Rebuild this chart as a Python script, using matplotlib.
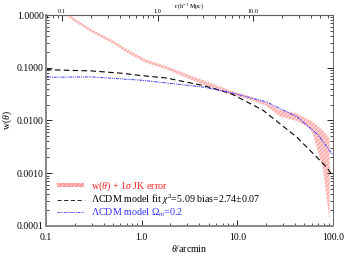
import numpy as np
import matplotlib
matplotlib.use("Agg")
import matplotlib.pyplot as plt
from matplotlib.patches import Patch
from matplotlib.lines import Line2D

plt.rcParams['font.family'] = ['Liberation Serif', 'DejaVu Serif']
plt.rcParams['mathtext.fontset'] = 'custom'
plt.rcParams['mathtext.rm'] = 'Liberation Serif'
plt.rcParams['mathtext.it'] = 'Liberation Serif:italic'
plt.rcParams['hatch.linewidth'] = 0.5

# measured w(theta) with jackknife error band
theta_obs = [0.15, 0.2, 0.3, 0.5, 0.7, 1.1, 1.8, 2.5, 4.4, 8.4, 12.5, 20.0, 28.0, 42.0, 57.0, 61.0, 78.0, 92.0]
w_hi = [1.22, 0.85, 0.53, 0.33, 0.225, 0.145, 0.107, 0.085, 0.058, 0.037, 0.030, 0.022, 0.0160, 0.0135, 0.0101, 0.0095, 0.0065, 0.0046]
w_lo = [1.08, 0.75, 0.47, 0.29, 0.195, 0.125, 0.094, 0.073, 0.048, 0.031, 0.026, 0.019, 0.0118, 0.0098, 0.0072, 0.0057, 0.0013, 0.00013]

# LCDM best fit (black dashed)
theta_fit = [0.1, 0.3, 0.6, 1.0, 1.8, 4.4, 8.4, 18.5, 42.0, 86.0, 95.0]
w_fit = [0.092, 0.087, 0.079, 0.071, 0.064, 0.046, 0.033, 0.0157, 0.0048, 0.0013, 0.0010]

# LCDM Omega_m = 0.2 (blue dash-dot)
theta_om = [0.1, 0.3, 1.0, 4.4, 8.4, 20.0, 42.0, 70.0, 100.0]
w_om = [0.066, 0.067, 0.058, 0.043, 0.034, 0.0226, 0.0118, 0.0053, 0.0022]

r_per_arcmin = 0.68  # h^-1 Mpc per arcmin

fig = plt.figure(figsize=(3.47, 2.56), dpi=100)
ax = fig.add_axes([0.1326, 0.1172, 0.8271, 0.8242])

band_face = '#ffd2d2'
band_hatch = '#ff8a8a'
ax.fill_between(theta_obs, w_lo, w_hi, facecolor=band_face, edgecolor=band_hatch,
                hatch='////////', linewidth=0)
ax.plot(theta_fit, w_fit, color='black', ls=(0, (5, 3)), lw=0.8)
ax.plot(theta_om, w_om, color='#3030ff', ls=(0, (3, 1, 1, 1, 1, 1)), lw=0.7)

ax.set_xscale('log')
ax.set_yscale('log')
ax.set_xlim(0.1, 100)
ax.set_ylim(0.0001, 1.0)

ax.set_xticks([0.1, 1.0, 10.0, 100.0])
ax.set_xticklabels(['0.1', '1.0', '10.0', '100.0'])
ax.set_yticks([0.0001, 0.001, 0.01, 0.1, 1.0])
ax.set_yticklabels(['0.0001', '0.0010', '0.0100', '0.1000', '1.0000'])
ax.tick_params(which='both', direction='in', right=True, top=False, labelsize=7)
ax.tick_params(axis='y', pad=1.5)
ax.tick_params(axis='x', pad=5)
ax.tick_params(which='major', length=4, width=0.6)
ax.tick_params(which='minor', length=2, width=0.5)

for s in ['left', 'bottom']:
    ax.spines[s].set_linewidth(1.4)
    ax.spines[s].set_color('#888888')
for s in ['top', 'right']:
    ax.spines[s].set_linewidth(0.7)
    ax.spines[s].set_color('#666666')

ax.set_xlabel(r'$\theta$/arcmin', fontsize=7, labelpad=0.5)
ax.set_ylabel(r'w($\theta$)', fontsize=7, labelpad=2)

sec = ax.secondary_xaxis('top', functions=(lambda t: t * r_per_arcmin,
                                            lambda r: r / r_per_arcmin))
sec.set_xticks([0.1, 1.0, 10.0])
sec.set_xticklabels(['0.1', '1.0', '10.0'])
sec.tick_params(which='both', direction='in', labelsize=4.5, pad=1)
sec.tick_params(which='major', length=4, width=0.6)
sec.tick_params(which='minor', length=2, width=0.5)
sec.set_xlabel(r'r (h$^{-1}$ Mpc)', fontsize=4.5, labelpad=1)

handles = [
    Patch(facecolor='#ffb8b8', edgecolor='#ff7070', hatch='////////', linewidth=0),
    Line2D([], [], color='black', ls=(0, (5, 3)), lw=0.6),
    Line2D([], [], color='#3030ff', ls=(0, (3, 1, 1, 1, 1, 1)), lw=0.6),
]
labels = [
    r'w($\theta$) + 1$\sigma$ JK error',
    r'$\Lambda$CDM model fit $\chi^2$=5.09 bias=2.74$\pm$0.07',
    r'$\Lambda$CDM model $\Omega_m$=0.2',
]
leg = ax.legend(handles, labels, loc='lower left', bbox_to_anchor=(0.038, 0.035),
                frameon=False, fontsize=7.2, handlelength=2.7, handleheight=0.3,
                handletextpad=0.7, labelspacing=-0.05, borderpad=0, borderaxespad=0)
for txt, c in zip(leg.get_texts(), ['#ff2020', 'black', '#3030ff']):
    txt.set_color(c)

fig.savefig('out.png', dpi=100)
